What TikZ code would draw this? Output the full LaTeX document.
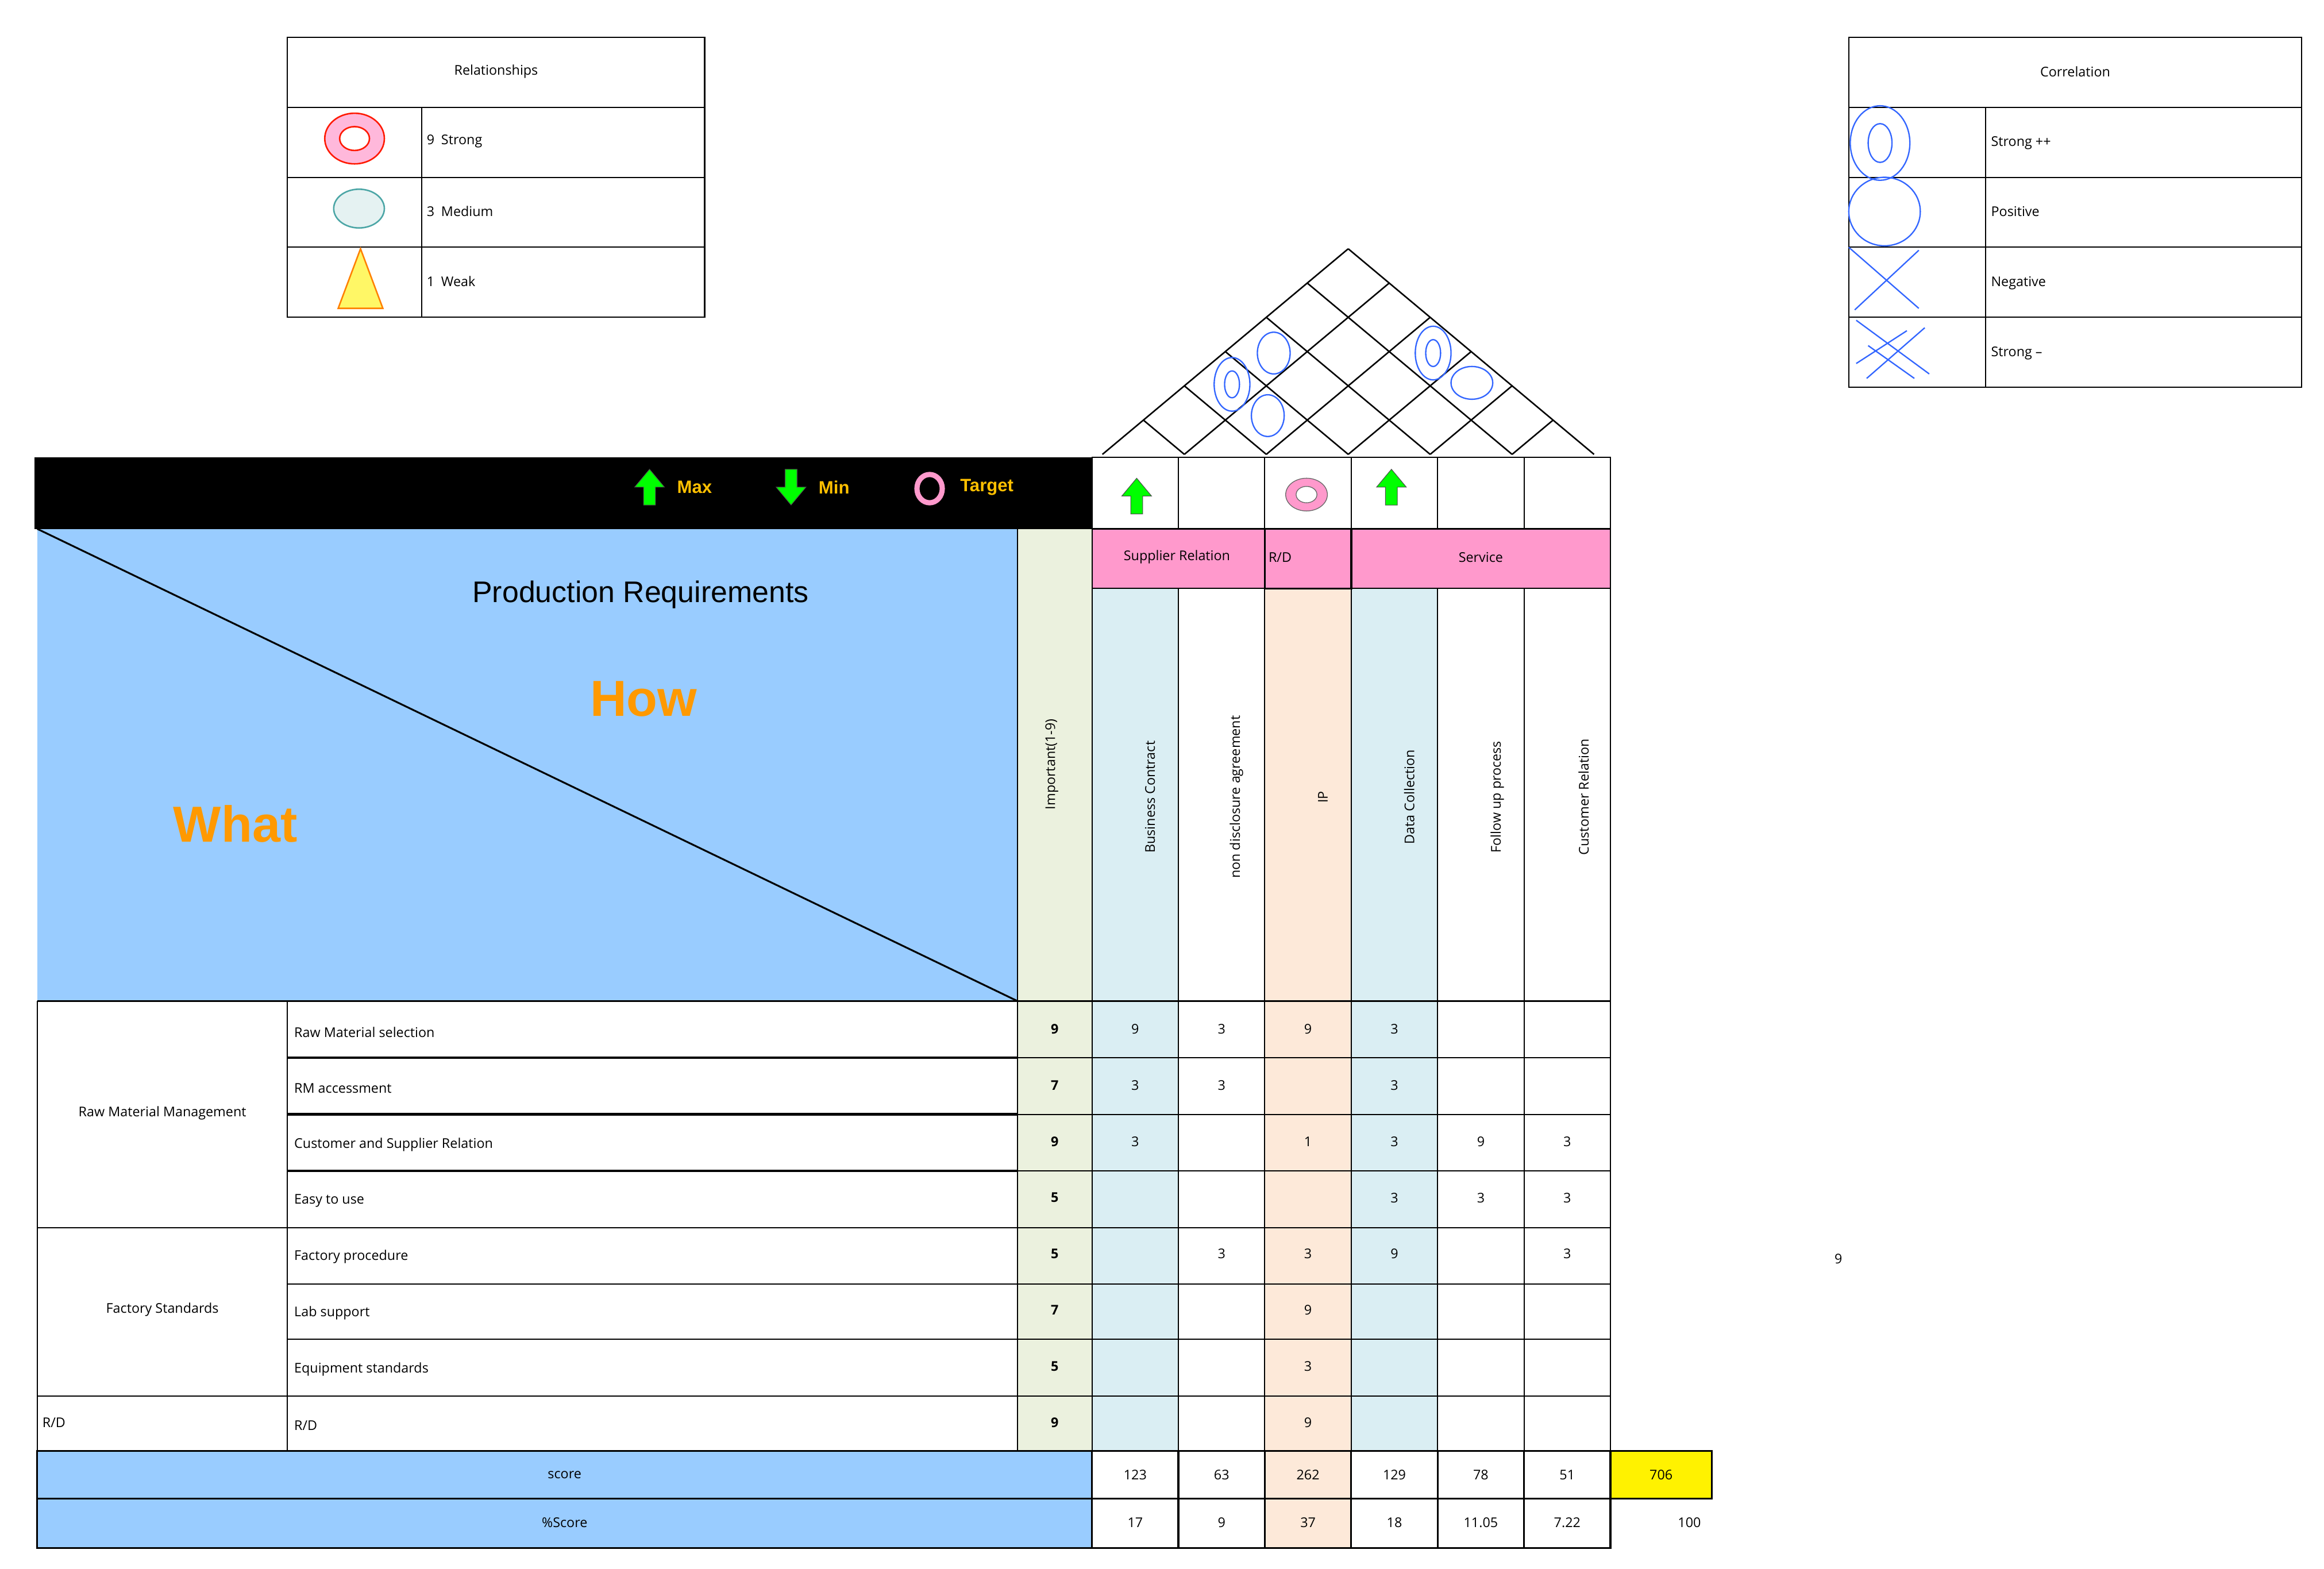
\documentclass[tikz,border=0pt]{standalone}
\usepackage{fontspec}
\setmainfont{Open Sans}
\newfontfamily\arialf{Liberation Sans}
\usetikzlibrary{shapes.geometric,arrows.meta}
\definecolor{bluebg}{HTML}{99CCFF}
\definecolor{impc}{HTML}{EBF1DE}
\definecolor{lblue}{HTML}{DAEEF3}
\definecolor{peach}{HTML}{FDE9D9}
\definecolor{pinkc}{HTML}{FF99CC}
\definecolor{orangec}{HTML}{FF9900}
\definecolor{goldc}{HTML}{FFC000}
\definecolor{greenc}{HTML}{00FF00}
\definecolor{corrb}{HTML}{3366FF}
\tikzset{
 sm/.style={font=\fontsize{9}{10}\selectfont},
 grid/.style={draw=black, line width=0.8pt},
 corr/.style={draw=corrb, line width=0.9pt},
 uparrow/.pic={\draw[fill=greenc,draw=black!70,line width=0.4pt] (-4,12)--(-4,0)--(-10,0)--(0,-12)--(10,0)--(4,0)--(4,12)--cycle;},
 downarrow/.pic={\draw[fill=greenc,draw=black!70,line width=0.4pt] (-4,-12)--(-4,0)--(-10,0)--(0,12)--(10,0)--(4,0)--(4,-12)--cycle;},
}
\begin{document}
\begin{tikzpicture}[x=1pt,y=-1pt]
\useasboundingbox[fill=white] (0,0) rectangle (1560,1053);
% ---------- Relationships legend
\draw[grid] (193,25) rectangle (473,213);
\foreach \y in {72,119,166} \draw[grid] (193,\y)--(473,\y);
\draw[grid] (283,72)--(283,213);
\node[sm] (relh) at (333,48) {Relationships};
\node[sm,anchor=west] (r9) at (283,95) {9\enspace Strong};
\node[sm,anchor=west] (r3) at (283,142) {3\enspace Medium};
\node[sm,anchor=west] (r1) at (283,189) {1\enspace Weak};
\draw[red!80!orange,fill=pinkc!70,line width=1pt] (238,93) ellipse (20 and 17);
\draw[red!80!orange,fill=white,line width=1pt] (238,93) ellipse (10 and 8);
\draw[teal!70,fill=teal!10,line width=1pt] (241,140) ellipse (17 and 13);
\draw[orange,fill=yellow!60,line width=1pt] (227,207)--(242,167)--(257,207)--cycle;
% ---------- Correlation legend
\draw[grid] (1241,25) rectangle (1545,260);
\foreach \y in {72,119,166,213} \draw[grid] (1241,\y)--(1545,\y);
\draw[grid] (1333,72)--(1333,260);
\node[sm] (corh) at (1393,48) {Correlation};
\node[sm,anchor=west] (c1) at (1333,96) {Strong ++};
\node[sm,anchor=west] (c2) at (1333,142) {Positive};
\node[sm,anchor=west] (c3) at (1333,190) {Negative};
\node[sm,anchor=west] (c4) at (1333,237) {Strong --};
\draw[corr] (1262,96) ellipse (20 and 25);
\draw[corr] (1262,96) ellipse (8 and 13);
\draw[corr] (1265,142) ellipse (24 and 23);
\draw[corr] (1241,166)--(1288,207) (1245,208)--(1288,168);
\draw[corr] (1246,215)--(1295,251) (1254,232)--(1285,254) (1246,244)--(1280,222) (1253,254)--(1292,220);
% ---------- roof
\foreach \i in {0,...,5}{
  \pgfmathsetmacro\hw{(1070-(740+55*\i))/2}
  \draw[line width=1pt] (740+55*\i,305)--++(\hw,-\hw/165*138);
}
\foreach \i in {1,...,6}{
  \pgfmathsetmacro\hw{((740+55*\i)-740)/2}
  \draw[line width=1pt] (740+55*\i,305)--++(-\hw,-\hw/165*138);
}
\draw[corr] (827,258) ellipse (12 and 18);
\draw[corr] (827,258) ellipse (5 and 9);
\draw[corr] (855,237) ellipse (11 and 14);
\draw[corr] (851,279) ellipse (11 and 14);
\draw[corr] (962,237) ellipse (12 and 18);
\draw[corr] (962,237) ellipse (5 and 9);
\draw[corr] (988,257) ellipse (14 and 11);
% ---------- black bar
\fill[black] (23,307) rectangle (733,355);
\pic at (436,327) {uparrow};
\node[font=\arialf\bfseries\fontsize{12}{12}\selectfont,text=goldc,anchor=west] (mx) at (451,327) {Max};
\pic at (531,327) {downarrow};
\node[font=\arialf\bfseries\fontsize{12}{12}\selectfont,text=goldc,anchor=west] (mn) at (546,327) {Min};
\draw[pinkc,line width=3.5pt] (624,328) ellipse (8.5 and 9.5);
\node[font=\arialf\bfseries\fontsize{12}{12}\selectfont,text=goldc,anchor=west] (tg) at (641,327) {Target};
% ---------- top-left blue area
\fill[bluebg] (25,355) rectangle (683,672);
\draw[line width=1.2pt] (25,355)--(683,672);
\node[font=\arialf\fontsize{20}{22}\selectfont] (pr) at (430,399) {Production Requirements};
\node[font=\arialf\bfseries\fontsize{34}{36}\selectfont,text=orangec] (how) at (432,469) {How};
\node[font=\arialf\bfseries\fontsize{34}{36}\selectfont,text=orangec] (what) at (158,553) {What};
% importance column
\fill[impc] (683,355) rectangle (733,974);
\node[sm,rotate=90] (imp) at (706,513) {Important(1-9)};
% column backgrounds
\fill[lblue] (733,395) rectangle (791,974);
\fill[peach] (849,395) rectangle (907,974);
\fill[lblue] (907,395) rectangle (965,974);
% icons row
\draw[grid] (733,307) rectangle (1081,355);
\foreach \x in {791,849,907,965,1023} \draw[grid] (\x,307)--(\x,355);
\pic at (763,333) {uparrow};
\draw[black!60,fill=pinkc,line width=0.5pt] (877,332) ellipse (14 and 11);
\draw[black!60,fill=white,line width=0.5pt] (877,332) ellipse (7 and 5.5);
\pic at (934,327) {uparrow};
% pink header
\fill[pinkc] (733,355) rectangle (1081,395);
\draw[grid] (733,355) rectangle (1081,395);
\draw[line width=1.3pt] (849,355) rectangle (907,395);
\node[sm] (sr) at (790,374) {Supplier Relation};
\node[sm,anchor=west] (rdh) at (848,374) {R/D};
\node[sm] (sv) at (994,374) {Service};
% vertical labels
\node[sm,rotate=90] (v1) at (772,535) {Business Contract};
\node[sm,rotate=90] (v2) at (830,535) {non disclosure agreement};
\node[sm,rotate=90] (v3) at (888,535) {IP};
\node[sm,rotate=90] (v4) at (946,535) {Data Collection};
\node[sm,rotate=90] (v5) at (1005,535) {Follow up process};
\node[sm,rotate=90] (v6) at (1063,535) {Customer Relation};
% grid lines over columns
\foreach \x in {683,733,791,849,907,965,1023,1081} \draw[grid] (\x,395)--(\x,974);
\draw[grid] (683,355)--(683,395);
\draw[grid] (25,672)--(1081,672);
\foreach \y in {710,748,786,824,862,899,937,974} \draw[grid] (193,\y)--(1081,\y);
\foreach \y in {710,748,786} \draw[line width=1.8pt] (193,\y)--(683,\y);
\draw[grid] (25,824)--(193,824) (25,937)--(193,937);
\draw[grid] (25,672)--(25,974) (193,672)--(193,974);
% group labels
\node[sm] (g1) at (109,747) {Raw Material Management};
\node[sm] (g2) at (109,879) {Factory Standards};
\node[sm,anchor=west] (g3) at (25,955) {R/D};
% items, importance, values
\foreach \t [count=\i] in {Raw Material selection,RM accessment,Customer and Supplier Relation,Easy to use,Factory procedure,Lab support,Equipment standards,R/D}{
  \pgfmathsetmacro\yy{672+37.75*\i-17}
  \node[sm,anchor=west] (it\i) at (194,\yy) {\t};
}
\foreach \v [count=\i] in {9,7,9,5,5,7,5,9}{
  \pgfmathsetmacro\yy{672+37.75*\i-19}
  \node[sm,font=\bfseries\fontsize{9}{10}\selectfont] (im\i) at (708,\yy) {\v};
}
\foreach \r/\c/\v in {1/1/9,1/2/3,1/3/9,1/4/3, 2/1/3,2/2/3,2/4/3, 3/1/3,3/3/1,3/4/3,3/5/9,3/6/3, 4/4/3,4/5/3,4/6/3, 5/2/3,5/3/3,5/4/9,5/6/3, 6/3/9, 7/3/3, 8/3/9}{
  \pgfmathsetmacro\yy{672+37.75*\r-19}
  \pgfmathsetmacro\xx{762+58*(\c-1)}
  \node[sm] (d\r\c) at (\xx,\yy) {\v};
}
% score rows
\fill[bluebg] (25,974) rectangle (733,1039);
\fill[peach] (849,974) rectangle (907,1039);
\fill[yellow] (1081,974) rectangle (1149,1006);
\draw[line width=1.2pt] (25,974) rectangle (1081,1039);
\draw[line width=1.2pt] (25,1006)--(1081,1006);
\foreach \x in {733,791,849,907,965,1023} \draw[line width=1.2pt] (\x,974)--(\x,1039);
\draw[line width=1.2pt] (1081,974) rectangle (1149,1006);
\node[sm] (sc) at (379,990) {score};
\node[sm] (psc) at (379,1022) {\%Score};
\foreach \v [count=\i] in {123,63,262,129,78,51}{
  \pgfmathsetmacro\xx{762+58*(\i-1)}
  \node[sm] (s\i) at (\xx,990) {\v};
}
\foreach \v [count=\i] in {17,9,37,18,11.05,7.22}{
  \pgfmathsetmacro\xx{762+58*(\i-1)}
  \node[sm] (p\i) at (\xx,1022) {\v};
}
\node[sm] (tot) at (1115,990) {706};
\node[sm] (tp) at (1134,1022) {100};
\node[sm] (nine) at (1234,845) {9};
\end{tikzpicture}
\end{document}
